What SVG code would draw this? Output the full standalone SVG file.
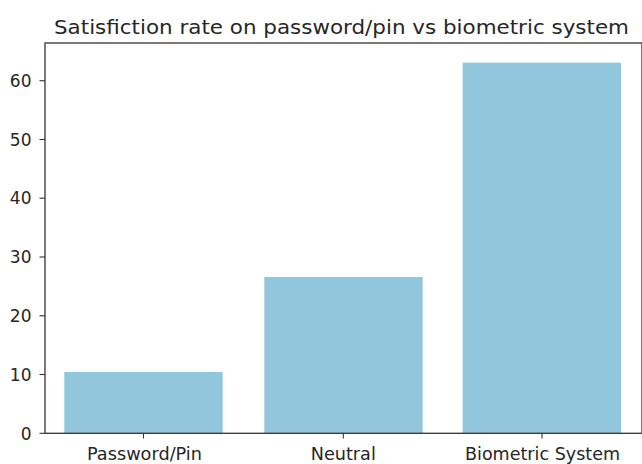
<svg xmlns="http://www.w3.org/2000/svg" width="642" height="464" viewBox="0 0 642 464">
<style>
text{font-family:"DejaVu Sans","Liberation Sans",sans-serif;fill:#262626}
.tk{font-size:17px}
.yl{text-anchor:end}
.xl{text-anchor:middle}
.bar{fill:#92c6dd}
.sp{stroke:#333;stroke-width:1.3;fill:none}
.tick{stroke:#333;stroke-width:1.1}
</style>
<rect width="642" height="464" fill="#fff"/>
<text x="54" y="33.5" font-size="20" textLength="575" lengthAdjust="spacingAndGlyphs">Satisfiction rate on password/pin vs biometric system</text>
<g id="bars">
<rect id="bar-password" class="bar" x="64.3" y="372" width="158.4" height="61.3"/>
<rect id="bar-neutral" class="bar" x="264.3" y="277" width="158.4" height="156.3"/>
<rect id="bar-biometric" class="bar" x="462.6" y="62.7" width="158.4" height="370.6"/>
</g>
<g id="axes">
<rect class="sp" x="45" y="43" width="597" height="390.3"/>
<g id="yticks">
<line class="tick" x1="39.5" y1="433.3" x2="45" y2="433.3"/>
<line class="tick" x1="39.5" y1="374.5" x2="45" y2="374.5"/>
<line class="tick" x1="39.5" y1="315.8" x2="45" y2="315.8"/>
<line class="tick" x1="39.5" y1="257" x2="45" y2="257"/>
<line class="tick" x1="39.5" y1="198.2" x2="45" y2="198.2"/>
<line class="tick" x1="39.5" y1="139.5" x2="45" y2="139.5"/>
<line class="tick" x1="39.5" y1="80.7" x2="45" y2="80.7"/>
<text class="tk yl" x="31.5" y="439.5">0</text>
<text class="tk yl" x="31.5" y="380.7">10</text>
<text class="tk yl" x="31.5" y="322">20</text>
<text class="tk yl" x="31.5" y="263.2">30</text>
<text class="tk yl" x="31.5" y="204.4">40</text>
<text class="tk yl" x="31.5" y="145.7">50</text>
<text class="tk yl" x="31.5" y="86.9">60</text>
</g>
<g id="xticks">
<line class="tick" x1="143.5" y1="433.3" x2="143.5" y2="438.5"/>
<line class="tick" x1="343.3" y1="433.3" x2="343.3" y2="438.5"/>
<line class="tick" x1="542" y1="433.3" x2="542" y2="438.5"/>
<text class="tk xl" x="144.5" y="460" textLength="115" lengthAdjust="spacingAndGlyphs">Password/Pin</text>
<text class="tk xl" x="343.3" y="460" textLength="65" lengthAdjust="spacingAndGlyphs">Neutral</text>
<text class="tk xl" x="542.5" y="460" textLength="155" lengthAdjust="spacingAndGlyphs">Biometric System</text>
</g>
</g>
</svg>
